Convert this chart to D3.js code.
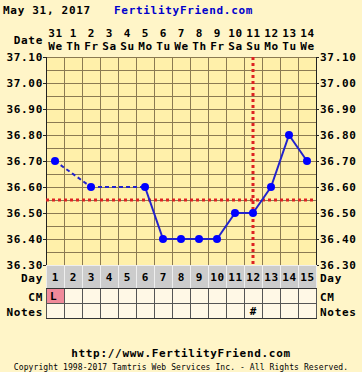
<!DOCTYPE html>
<html>
<head>
<meta charset="utf-8">
<script src="https://cdn.jsdelivr.net/npm/d3@7"></script>
<style>
  body { margin: 0; background: #fff5c8; }
  text { font-family: "DejaVu Sans Mono", monospace; font-weight: bold; font-size: 11px; letter-spacing: 0.7px; }
</style>
</head>
<body>
<div id="chart"></div>
<script>
// chart data
const dates = ["31", "1", "2", "3", "4", "5", "6", "7", "8", "9", "10", "11", "12", "13", "14"];
const weekdays = ["We", "Th", "Fr", "Sa", "Su", "Mo", "Tu", "We", "Th", "Fr", "Sa", "Su", "Mo", "Tu", "We"];
const cycleDays = [1, 2, 3, 4, 5, 6, 7, 8, 9, 10, 11, 12, 13, 14, 15];
const temps = [36.70, null, 36.60, null, null, 36.60, 36.40, 36.40, 36.40, 36.40, 36.50, 36.50, 36.60, 36.80, 36.70];
const cm = ["L", "", "", "", "", "", "", "", "", "", "", "", "", "", ""];
const notes = ["", "", "", "", "", "", "", "", "", "", "", "#", "", "", ""];
const yTicks = [37.10, 37.00, 36.90, 36.80, 36.70, 36.60, 36.50, 36.40, 36.30];
const coverline = 36.55;
const ovulationDay = 12;

const W = 362, H = 372;
const plotL = 46, plotR = 316, plotT = 57, plotB = 265;

const svg = d3.select("#chart").append("svg")
    .attr("width", W)
    .attr("height", H)

svg.append("rect").attr("width", W).attr("height", H).attr("fill", "#fff5c8")

const x = d3.scaleBand().domain(cycleDays).range([plotL, plotR])
const y = d3.scaleLinear().domain([36.30, 37.10]).range([plotB, plotT])
const cx = d => x(d) + x.bandwidth() / 2

// header
svg.append("text").attr("x", 3).attr("y", 14)
  .attr("fill", "#000").text("May 31, 2017")
svg.append("text").attr("x", 114).attr("y", 14)
  .attr("fill", "#0000cc").text("FertilityFriend.com")

svg.append("text").attr("x", 43).attr("y", 44).attr("text-anchor", "end").text("Date")
svg.selectAll(".date").data(cycleDays).enter().append("text")
  .attr("x", d => cx(d) + 0.5).attr("y", 37).attr("text-anchor", "middle")
  .text((d, i) => dates[i])
svg.selectAll(".wday").data(cycleDays).enter().append("text")
  .attr("x", d => cx(d) + 0.5).attr("y", 50).attr("text-anchor", "middle")
  .text((d, i) => weekdays[i])

// plot background and grid
svg.append("rect").attr("x", plotL).attr("y", plotT)
  .attr("width", plotR - plotL).attr("height", plotB - plotT).attr("fill", "#fff0aa")

const gridY = d3.range(0, 17).map(i => 36.30 + i * 0.05)
svg.selectAll(".hgrid").data(gridY).enter().append("line")
  .attr("x1", plotL).attr("x2", plotR)
  .attr("y1", d => Math.round(y(d)) + 0.5).attr("y2", d => Math.round(y(d)) + 0.5)
  .attr("stroke", "#8b7a52").attr("stroke-width", 1)
svg.selectAll(".vgrid").data(cycleDays.concat([16])).enter().append("line")
  .attr("x1", (d, i) => plotL + i * x.bandwidth() + 0.5).attr("x2", (d, i) => plotL + i * x.bandwidth() + 0.5)
  .attr("y1", plotT).attr("y2", plotB)
  .attr("stroke", "#8b7a52").attr("stroke-width", 1)

// axis frame & ticks
svg.append("line").attr("x1", plotL + 0.5).attr("x2", plotL + 0.5).attr("y1", plotT).attr("y2", 318)
  .attr("stroke", "#222")
svg.append("line").attr("x1", plotR + 0.5).attr("x2", plotR + 0.5).attr("y1", plotT).attr("y2", 318)
  .attr("stroke", "#222")
svg.selectAll(".tickl").data(yTicks).enter().append("line")
  .attr("x1", plotL - 3).attr("x2", plotL)
  .attr("y1", d => Math.round(y(d)) + 0.5).attr("y2", d => Math.round(y(d)) + 0.5)
  .attr("stroke", "#222")
svg.selectAll(".tickr").data(yTicks).enter().append("line")
  .attr("x1", plotR).attr("x2", plotR + 3)
  .attr("y1", d => Math.round(y(d)) + 0.5).attr("y2", d => Math.round(y(d)) + 0.5)
  .attr("stroke", "#222")

svg.selectAll(".ylabl").data(yTicks).enter().append("text")
  .attr("x", 43).attr("y", d => y(d) + 3.5).attr("text-anchor", "end")
  .text(d => d.toFixed(2))
svg.selectAll(".ylabr").data(yTicks).enter().append("text")
  .attr("x", 320).attr("y", d => y(d) + 3.5)
  .text(d => d.toFixed(2))

// coverline and ovulation line
svg.append("line").attr("x1", plotL).attr("x2", plotR)
  .attr("y1", y(coverline)).attr("y2", y(coverline))
  .attr("stroke", "#dd2222").attr("stroke-width", 3).attr("stroke-dasharray", "3,3")
svg.append("line").attr("x1", cx(ovulationDay)).attr("x2", cx(ovulationDay))
  .attr("y1", plotT).attr("y2", plotB)
  .attr("stroke", "#dd2222").attr("stroke-width", 3).attr("stroke-dasharray", "3,3")

// temperature line: dashed across gaps, solid for consecutive days
const pts = cycleDays.map((d, i) => ({day: d, t: temps[i]})).filter(p => p.t !== null)
const segs = d3.pairs(pts)
svg.selectAll(".seg").data(segs).enter().append("line")
  .attr("x1", d => cx(d[0].day)).attr("y1", d => y(d[0].t))
  .attr("x2", d => cx(d[1].day)).attr("y2", d => y(d[1].t))
  .attr("stroke", "#2222cc").attr("stroke-width", 2)
  .attr("stroke-dasharray", d => d[1].day - d[0].day > 1 ? "4,3" : null)
svg.selectAll(".pt").data(pts).enter().append("circle")
  .attr("cx", d => cx(d.day)).attr("cy", d => y(d.t)).attr("r", 4)
  .attr("fill", "#0000ff")

// bottom rows
const rows = [
  {label: "Day", y0: 265, y1: 288, fill: "#cccccc", line: "#eeeeee", vals: cycleDays.map(String)},
  {label: "CM", y0: 288, y1: 303, fill: "#fff8e6", line: "#555", vals: cm},
  {label: "Notes", y0: 303, y1: 318, fill: "#fff8e6", line: "#555", vals: notes}
]
rows.forEach(r => {
  const g = svg.append("g")
  g.selectAll("rect").data(cycleDays).enter().append("rect")
    .attr("x", d => x(d) + 0.5).attr("y", r.y0 + 0.5)
    .attr("width", x.bandwidth()).attr("height", r.y1 - r.y0)
    .attr("fill", (d, i) => r.label === "CM" && r.vals[i] === "L" ? "#f08a9a" : r.fill)
    .attr("stroke", r.line).attr("stroke-width", 1)
  g.selectAll("text").data(cycleDays).enter().append("text")
    .attr("x", d => r.label === "CM" ? x(d) + 4 : cx(d) + 0.5)
    .attr("y", (r.y0 + r.y1) / 2 + 4)
    .attr("text-anchor", r.label === "CM" ? "start" : "middle")
    .text((d, i) => r.vals[i])
  svg.append("text").attr("x", 43).attr("y", (r.y0 + r.y1) / 2 + 5).attr("text-anchor", "end")
    .text(r.label)
  svg.append("text").attr("x", 320).attr("y", (r.y0 + r.y1) / 2 + 5)
    .text(r.label)
})
svg.append("line").attr("x1", plotL).attr("x2", plotR + 1)
  .attr("y1", 288.5).attr("y2", 288.5).attr("stroke", "#333")
svg.append("line").attr("x1", plotL).attr("x2", plotR + 1)
  .attr("y1", 318.5).attr("y2", 318.5).attr("stroke", "#333")

// footer
svg.append("text").attr("x", 181).attr("y", 357).attr("text-anchor", "middle")
  .text("http://www.FertilityFriend.com")
svg.append("text").attr("x", 181).attr("y", 370).attr("text-anchor", "middle")
  .style("font-size", "8px").style("font-weight", "normal").style("letter-spacing", "0.1px")
  .text("Copyright 1998-2017 Tamtris Web Services Inc. - All Rights Reserved.")
</script>
</body>
</html>
